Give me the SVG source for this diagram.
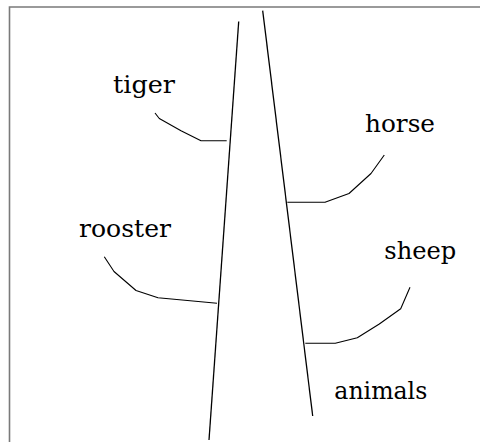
<svg xmlns="http://www.w3.org/2000/svg" width="480" height="442" viewBox="0 0 480 442">
<style>
.frame{fill:none;stroke:#7a7a7a;stroke-width:1.6}
.trunk{fill:none;stroke:#000;stroke-width:1.3}
.conn{fill:none;stroke:#000;stroke-width:1.1;stroke-linejoin:round}
.lbl{font-family:"DejaVu Serif","Liberation Serif",serif;font-size:23.5px;fill:#000}
</style>
<rect width="480" height="442" fill="#fff"/>
<path class="frame" d="M9.5,442 V7 H480"/>
<g id="trunk">
<line class="trunk" x1="238.7" y1="21.5" x2="209" y2="440"/>
<line class="trunk" x1="262.7" y1="10.7" x2="312.7" y2="416"/>
</g>
<g id="connectors">
<polyline class="conn" points="155,113 159.3,118.5 181,130.7 201,140.7 226.7,140.7"/>
<polyline class="conn" points="384.3,155 371,173.5 349,193.5 325,202.3 287.3,202.3"/>
<polyline class="conn" points="104.3,256.7 114,271.5 136,290.5 158,297.7 217,303.3"/>
<polyline class="conn" points="410,287.3 400.7,308.7 379.3,324 357.3,337.7 335.3,343.3 305.3,343.3"/>
</g>
<g id="tiger"><text class="lbl" x="113" y="92.7" textLength="62" lengthAdjust="spacingAndGlyphs">tiger</text></g>
<g id="horse"><text class="lbl" x="365" y="132.3" textLength="70" lengthAdjust="spacingAndGlyphs">horse</text></g>
<g id="rooster"><text class="lbl" x="79" y="237.3" textLength="92" lengthAdjust="spacingAndGlyphs">rooster</text></g>
<g id="sheep"><text class="lbl" x="384.3" y="259" textLength="72" lengthAdjust="spacingAndGlyphs">sheep</text></g>
<g id="animals"><text class="lbl" x="334.3" y="399.3" textLength="93" lengthAdjust="spacingAndGlyphs">animals</text></g>
</svg>
